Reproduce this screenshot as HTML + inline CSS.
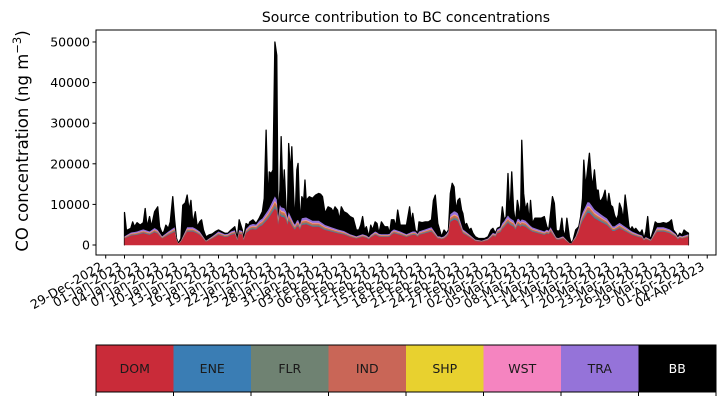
<!DOCTYPE html>
<html><head><meta charset="utf-8"><style>
html,body{margin:0;padding:0;background:#fff;}
svg{display:block;font-family:"DejaVu Sans","Liberation Sans",sans-serif;}
</style></head><body>
<svg id="chart" width="725" height="402" viewBox="0 0 725 402" xmlns="http://www.w3.org/2000/svg">
<text x="406" y="22" font-size="14" text-anchor="middle">Source contribution to BC concentrations</text>
<text transform="translate(28,141) rotate(-90)" font-size="16.5" text-anchor="middle">CO concentration (ng m<tspan baseline-shift="super" font-size="11.5">−3</tspan>)</text>
<g id="areas"></g>
<g id="yaxis"></g>
<g id="xaxis"></g>
<rect x="96" y="30" width="620" height="225" fill="none" stroke="#000" stroke-width="1"/>
<g id="legend"></g>
</svg>
<script>
// time in days since 01-Jan-2023 for total series
const totalDays = [0,0.3,0.5,1,1.3,1.6,2,2.5,3,3.3,3.6,4,4.3,4.8,5.3,5.6,6,6.3,6.6,7,7.3,7.7,8,8.3,8.6,9,9.3,9.7,10,10.3,10.6,10.9,11.3,11.6,12,12.3,12.6,13,13.5,14,14.5,15,15.5,16,16.5,17,17.3,17.6,18,18.3,18.8,19,19.4,19.8,20,20.5,21,21.5,22,22.3,22.6,22.9,23.1,23.4,23.7,24,24.3,24.5,24.8,25,25.3,25.5,25.8,26,26.2,26.5,26.7,27,27.2,27.5,27.7,28,28.3,28.6,28.8,29,29.5,30,30.5,31,31.3,31.6,32,32.5,33,33.3,33.6,34,34.3,34.6,35,35.5,36,36.5,37,37.4,37.7,38,38.3,38.6,39,39.3,39.6,40,40.3,40.6,41,41.5,42,42.3,42.6,43,43.3,43.6,44,44.5,45,45.5,45.8,46,46.4,46.8,47,47.5,48,48.5,49,49.3,49.6,50,50.3,50.6,51,51.4,51.7,52,52.3,52.6,52.9,53.2,53.5,53.8,54,54.3,54.6,55,55.3,55.6,56,56.5,57,57.5,58,58.5,58.8,59.2,59.5,60,60.3,60.6,60.9,61.2,61.5,61.8,62.1,62.4,62.7,62.9,63.2,63.4,63.7,64,64.3,64.6,64.8,65.1,65.5,66,66.5,67,67.4,67.7,68,68.3,68.6,68.9,69.2,69.5,69.8,70,70.3,70.6,71,71.3,71.6,72,72.5,72.8,73.1,73.3,73.6,73.9,74.2,74.5,74.7,75,75.3,75.6,75.8,76.1,76.4,76.7,77,77.3,77.6,77.9,78.2,78.5,78.8,79,79.3,79.6,79.9,80.2,80.5,80.8,81,81.3,81.6,82,82.3,82.6,82.9,83.2,83.5,83.8,84,84.4,84.7,85,85.5,86,86.5,87,87.3,87.6,88,88.3,88.6,89,89.3,89.6,90];
const totalValues = [8000,3700,3700,4100,5700,4500,5500,4900,5500,9000,4500,7000,4500,8200,9400,4500,2900,3300,4900,4100,5700,11900,6200,1600,400,1600,9800,10400,12300,8600,11000,5300,8200,4500,5700,6200,3700,2000,2500,2700,3300,3700,3300,2900,2900,3700,4100,4500,1600,6200,3700,1600,5300,4900,5700,6200,5300,6600,8200,11500,28300,10300,18000,17600,18500,50000,46700,7000,13500,26700,11900,18500,8600,7000,25000,17600,24200,11900,5300,18500,20100,5300,11900,11000,16000,11000,11900,11500,12300,12700,12500,11900,7800,9400,9000,8200,9400,8600,6200,9400,8200,7800,7000,6600,3700,3700,4900,7000,3700,4500,2000,4900,3700,5700,5300,2900,5700,4500,4500,2900,6200,6200,4500,8600,4900,4900,4900,9400,5300,7800,3700,2900,5700,5500,5700,5700,6200,11000,12300,5300,3700,2000,3700,2900,3700,12700,15200,14300,8600,11000,11500,8600,7800,4900,5300,3700,4100,2900,2000,1600,1600,1600,2000,3700,4100,2900,4100,4500,9400,6200,7000,17600,7000,18000,8600,5300,11000,9400,6200,25800,12700,8600,10300,5700,11000,5300,6600,6600,6600,7000,4500,3700,7800,11900,10300,3700,3300,3700,6600,3700,2000,6600,2000,400,1200,3700,4500,7000,11500,20900,14300,18500,22600,16800,14300,18500,13500,13500,11000,11000,11900,13500,9400,12700,9800,9400,7400,6200,7400,10300,9000,6200,12300,8600,4500,3700,4500,3700,4100,3300,2900,3700,1600,3300,7000,2000,1600,3700,5700,5300,5300,5500,5300,5700,6200,3700,2900,2000,2900,2500,3700,3300,2900];
// DOM (domestic) daily values, day 0..90
const domValues = [1600,2300,2500,2900,2500,3300,1600,2500,3300,800,3300,3300,2500,800,1600,2500,2000,2500,2900,2500,3700,4100,4900,6600,9000,7000,6600,4100,4900,5100,4500,4500,3700,3300,2900,2600,2000,1600,2000,1600,2500,2000,2000,2900,2500,2000,2500,2500,2900,3300,1600,1600,5700,6600,2900,2000,1000,800,1200,2500,3300,5700,4500,4900,4500,3300,2900,2500,3300,1200,1600,400,1600,5700,8200,6600,5700,4900,3300,4100,3300,2500,2000,1600,1000,3300,3300,2900,2000,1600,2000];
// remaining sources as shares relative to DOM
const sourceNames = ["DOM","ENE","FLR","IND","SHP","WST","TRA","BB"];
const sourceColors = ["#c92b39","#3a7db4","#6f8272","#c96657","#e8d12f","#f584c0","#9573d9","#000000"];
const shareOfDom = [1,0.03,0.05,0.08,0.02,0.03,0.12];
const yTicks = [0,10000,20000,30000,40000,50000];
const xTickLabels = ["29-Dec-2022","01-Jan-2023","04-Jan-2023","07-Jan-2023","10-Jan-2023","13-Jan-2023","16-Jan-2023","19-Jan-2023","22-Jan-2023","25-Jan-2023","28-Jan-2023","31-Jan-2023","03-Feb-2023","06-Feb-2023","09-Feb-2023","12-Feb-2023","15-Feb-2023","18-Feb-2023","21-Feb-2023","24-Feb-2023","27-Feb-2023","02-Mar-2023","05-Mar-2023","08-Mar-2023","11-Mar-2023","14-Mar-2023","17-Mar-2023","20-Mar-2023","23-Mar-2023","26-Mar-2023","29-Mar-2023","01-Apr-2023","04-Apr-2023"];
const xTickDays = [-3,0,3,6,9,12,15,18,21,24,27,30,33,36,39,42,45,48,51,54,57,60,63,66,69,72,75,78,81,84,87,90,93];

const NS="http://www.w3.org/2000/svg";
const X0=96,X1=716,Y0=255,Y1=30;
const dMin=-4.55,dMax=94.4,vMin=-2460,vMax=52950;
function xs(d){return X0+(d-dMin)/(dMax-dMin)*(X1-X0);}
function ys(v){return Y0-(v-vMin)/(vMax-vMin)*(Y0-Y1);}
function mk(tag,attrs,parent){const e=document.createElementNS(NS,tag);for(const k in attrs)e.setAttribute(k,attrs[k]);parent.appendChild(e);return e;}
function domAt(d){const i=Math.max(0,Math.min(domValues.length-2,Math.floor(d)));const f=d-i;return domValues[i]*(1-f)+domValues[i+1]*f;}

const cum=[];
for(let l=0;l<8;l++)cum.push([]);
totalDays.forEach((d,i)=>{
  const tot=totalValues[i];
  let dom=domAt(d);
  let parts=shareOfDom.map(s=>s*dom);
  let sum=parts.reduce((a,b)=>a+b,0);
  if(sum>tot*0.95){const k=tot*0.95/sum;parts=parts.map(p=>p*k);}
  let acc=0;
  for(let l=0;l<7;l++){acc+=parts[l];cum[l].push(acc);}
  cum[7].push(tot);
});
const areas=document.getElementById('areas');
for(let l=7;l>=0;l--){
  let p='M'+xs(totalDays[0])+','+ys(0);
  totalDays.forEach((d,i)=>{p+=' L'+xs(d).toFixed(2)+','+ys(cum[l][i]).toFixed(2);});
  p+=' L'+xs(totalDays[totalDays.length-1])+','+ys(0)+' Z';
  const a=mk('path',{d:p,fill:sourceColors[l],stroke:l===7?'#000':'none','stroke-width':l===7?1.3:0,'stroke-linejoin':'round'},areas);
  
  
}
const bl=mk('line',{x1:xs(totalDays[0]),x2:xs(totalDays[totalDays.length-1]),y1:ys(0)+0.5,y2:ys(0)+0.5,stroke:'#f2c9cc','stroke-width':1},areas);



const yax=document.getElementById('yaxis');
yTicks.forEach(v=>{
  const y=ys(v);
  const t=mk('line',{x1:X0-3.5,x2:X0,y1:y,y2:y,stroke:'#000'},yax);
  
  
  const tx=mk('text',{x:X0-6,y:y+4.5,'font-size':12.5,'text-anchor':'end'},yax);
  tx.textContent=String(v);
  
  
});
const xax=document.getElementById('xaxis');
xTickDays.forEach((d,i)=>{
  const x=xs(d);
  const t=mk('line',{x1:x,x2:x,y1:Y0,y2:Y0+3.5,stroke:'#000'},xax);
  
  
  const tx=mk('text',{transform:'translate('+(x-2)+','+(Y0+14)+') rotate(-30)','font-size':12.5,'text-anchor':'end'},xax);
  tx.textContent=xTickLabels[i];
  
  
});
[96].forEach(d=>{const x=xs(d);const t=mk('line',{x1:x,x2:x,y1:Y0,y2:Y0+3.5,stroke:'#000'},xax);});

const lg=document.getElementById('legend');
const LX0=96,LX1=716,LY=345,LH=47,w=(LX1-LX0)/8;
sourceNames.forEach((n,i)=>{
  const r=mk('rect',{x:LX0+i*w,y:LY,width:w+0.3,height:LH,fill:sourceColors[i]},lg);
  
  
  const t=mk('text',{x:LX0+i*w+w/2,y:LY+LH/2+4.5,'font-size':12.5,'text-anchor':'middle',fill:i===7?'#fff':'#1a1a1a'},lg);
  t.textContent=n;
  
  
});
for(let i=0;i<=8;i++){const x=LX0+i*w;const t=mk('line',{x1:x,x2:x,y1:LY+LH,y2:LY+LH+4,stroke:'#000'},lg);}
const fr=mk('rect',{x:LX0,y:LY,width:LX1-LX0,height:LH,fill:'none',stroke:'#000','stroke-width':1},lg);


</script>
</body></html>
